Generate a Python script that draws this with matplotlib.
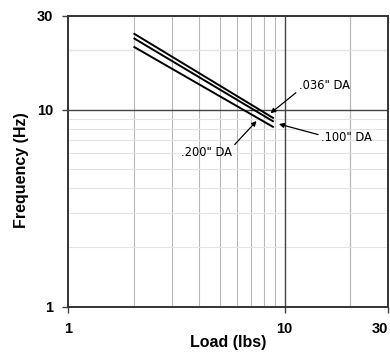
import matplotlib
matplotlib.use("Agg")
import matplotlib.pyplot as plt
from matplotlib.ticker import FixedLocator, NullFormatter

plt.rcParams['font.family'] = ['Liberation Sans', 'DejaVu Sans']

# data (load in lbs, frequency in Hz)
load = [2.0, 8.9]
freq_036 = [24.4, 9.04]
freq_100 = [23.1, 8.69]
freq_200 = [20.9, 8.14]

major_ticks = [1, 10, 30]
major_labels = ['1', '10', '30']
minor_ticks = [2, 3, 4, 5, 6, 7, 8, 9, 20]

fig = plt.figure(figsize=(3.9, 3.54), dpi=100)
ax = fig.add_axes([0.1756, 0.1336, 0.819, 0.822])

ax.set_xscale('log')
ax.set_yscale('log')
ax.set_xlim(1, 30)
ax.set_ylim(1, 30)

# grid
ax.xaxis.set_minor_locator(FixedLocator(minor_ticks))
ax.yaxis.set_minor_locator(FixedLocator(minor_ticks))
ax.xaxis.set_minor_formatter(NullFormatter())
ax.yaxis.set_minor_formatter(NullFormatter())
ax.grid(True, which='minor', axis='x', color='#b8b8b8', lw=0.8)
ax.grid(True, which='minor', axis='y', color='#e4e4e4', lw=0.8)
ax.axhline(20, color='#a8a8a8', lw=0.8, zorder=0.5)
ax.axvline(20, color='#a0a0a0', lw=0.8, zorder=0.5)
ax.axhline(10, color='#444444', lw=1.0, zorder=0.6)
ax.axvline(10, color='#444444', lw=1.0, zorder=0.6)
ax.set_axisbelow(True)

ax.set_xticks(major_ticks)
ax.set_xticklabels(major_labels)
ax.set_yticks(major_ticks)
ax.set_yticklabels(major_labels)
ax.tick_params(which='major', direction='out', length=4, width=1,
               color='#444444', labelsize=10.5, pad=7)
ax.tick_params(which='minor', length=0)
for lab in ax.get_xticklabels() + ax.get_yticklabels():
    lab.set_fontweight('bold')
ax.get_xticklabels()[-1].set_horizontalalignment('right')

for s in ax.spines.values():
    s.set_color('#333333')
    s.set_linewidth(1.4)

# curves
for f in (freq_036, freq_100, freq_200):
    ax.plot(load, f, color='black', lw=1.4, solid_capstyle='butt')

arrow = dict(arrowstyle='-|>', color='black', lw=0.9, mutation_scale=7,
             shrinkA=0, shrinkB=0)
afont = dict(fontsize=8.3, family='DejaVu Sans')
ax.annotate('.036" DA', xy=(8.6, 9.6), xytext=(11.6, 13.3),
            ha='left', va='center', **afont,
            arrowprops=dict(arrow, relpos=(0, 0.1)))
ax.annotate('.100" DA', xy=(9.4, 8.46), xytext=(14.7, 7.19),
            ha='left', va='center', **afont,
            arrowprops=dict(arrow, relpos=(0, 0.7)))
ax.annotate('.200" DA', xy=(7.41, 8.76), xytext=(5.7, 6.05),
            ha='right', va='center', **afont,
            arrowprops=dict(arrow, relpos=(1, 0.9)))

ax.set_xlabel('Load (lbs)', fontsize=11.5, fontweight='bold', labelpad=-1)
ax.set_ylabel('Frequency (Hz)', fontsize=11.5, fontweight='bold')
ax.yaxis.set_label_coords(-0.125, 0.47)

fig.savefig('out.png', dpi=100)
